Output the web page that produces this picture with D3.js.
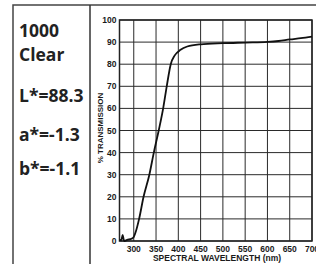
<!DOCTYPE html>
<html>
<head>
<meta charset="utf-8">
<script src="https://cdn.jsdelivr.net/npm/d3@7"></script>
<style>
  html, body { margin: 0; padding: 0; background: #fff; }
  svg { display: block; }
</style>
</head>
<body>
<svg id="chart" width="316" height="264"></svg>
<script>
// spectral transmission curve
const wavelengths = [268, 272, 275, 277, 279, 285, 295, 300, 305, 312, 322, 335, 345, 356, 366, 374, 383, 392, 405, 420, 450, 500, 550, 600, 625, 650, 675, 700];
const transmission = [0.5, 0.3, 2.8, 1, 0, 0.5, 1, 1.8, 4.5, 10, 20, 30, 40, 50, 60, 70, 80, 84, 86.5, 88, 89, 89.5, 89.8, 90.1, 90.5, 91.2, 91.8, 92.5];
const xTicks = [300, 350, 400, 450, 500, 550, 600, 650, 700];
const yTicks = [0, 10, 20, 30, 40, 50, 60, 70, 80, 90, 100];
const infoLines = ["1000", "Clear", "L*=88.3", "a*=-1.3", "b*=-1.1"];

const svg = d3.select("#chart");
const plotL = 119.5, plotR = 312, plotT = 20, plotB = 241;

const x = d3.scaleLinear().domain([268, 700]).range([plotL, plotR]);
const y = d3.scaleLinear().domain([0, 100]).range([plotB, plotT]);

// outer frame and divider
svg.append("rect")
  .attr("x", 13).attr("y", 5)
  .attr("width", 330).attr("height", 300)
  .attr("fill", "none").attr("stroke", "#444").attr("stroke-width", 1.5);
svg.append("line")
  .attr("x1", 90).attr("x2", 90).attr("y1", 5).attr("y2", 264)
  .attr("stroke", "#333").attr("stroke-width", 1.5);

// left panel text
const baselines = [37, 61, 102, 141, 175];
svg.append("g")
  .selectAll("text")
  .data(infoLines)
  .join("text")
  .attr("x", 19)
  .attr("y", (d, i) => baselines[i])
  .attr("font-family", "'Open Sans', sans-serif")
  .attr("font-weight", 700)
  .attr("font-size", 17.5)
  .attr("fill", "#222")
  .text((d) => d);

// grid
const grid = svg.append("g");
grid.selectAll(".v")
  .data(xTicks)
  .join("line")
  .attr("x1", (d) => x(d)).attr("x2", (d) => x(d))
  .attr("y1", plotT).attr("y2", plotB)
  .attr("stroke", "#2a2a2a").attr("stroke-width", 1);
grid.selectAll(".h")
  .data(yTicks)
  .join("line")
  .attr("x1", plotL).attr("x2", plotR)
  .attr("y1", (d) => y(d)).attr("y2", (d) => y(d))
  .attr("stroke", "#2a2a2a").attr("stroke-width", 1);
svg.append("rect")
  .attr("x", plotL).attr("y", plotT)
  .attr("width", plotR - plotL).attr("height", plotB - plotT)
  .attr("fill", "none").attr("stroke", "#222").attr("stroke-width", 1.5);

// axes labels
const labelFont = "'Liberation Sans', Arial, sans-serif";
svg.append("g")
  .selectAll("text")
  .data(yTicks)
  .join("text")
  .attr("x", plotL - 3)
  .attr("y", (d) => y(d) + 3)
  .attr("text-anchor", "end")
  .attr("font-family", labelFont)
  .attr("font-weight", 700)
  .attr("font-size", 8.5)
  .attr("fill", "#1a1a1a")
  .text((d) => d);

svg.append("g")
  .selectAll("text")
  .data(xTicks)
  .join("text")
  .attr("x", (d) => x(d))
  .attr("y", 252)
  .attr("text-anchor", "middle")
  .attr("font-family", labelFont)
  .attr("font-weight", 700)
  .attr("font-size", 8.5)
  .attr("fill", "#1a1a1a")
  .text((d) => d);

svg.append("text")
  .attr("x", 217)
  .attr("y", 261)
  .attr("text-anchor", "middle")
  .attr("font-family", labelFont)
  .attr("font-weight", 700)
  .attr("font-size", 8.5)
  .attr("fill", "#1a1a1a")
  .text("SPECTRAL WAVELENGTH (nm)");

svg.append("text")
  .attr("transform", "translate(103,128) rotate(-90)")
  .attr("text-anchor", "middle")
  .attr("font-family", labelFont)
  .attr("font-weight", 700)
  .attr("font-size", 8)
  .attr("fill", "#1a1a1a")
  .text("% TRANSMISSION");

// curve
const pts = wavelengths.map((w, i) => [w, transmission[i]]);
svg.append("path")
  .datum(pts)
  .attr("fill", "none")
  .attr("stroke", "#111")
  .attr("stroke-width", 1.8)
  .attr("d", d3.line().x((d) => x(d[0])).y((d) => y(d[1])).curve(d3.curveMonotoneX));
</script>
</body>
</html>
